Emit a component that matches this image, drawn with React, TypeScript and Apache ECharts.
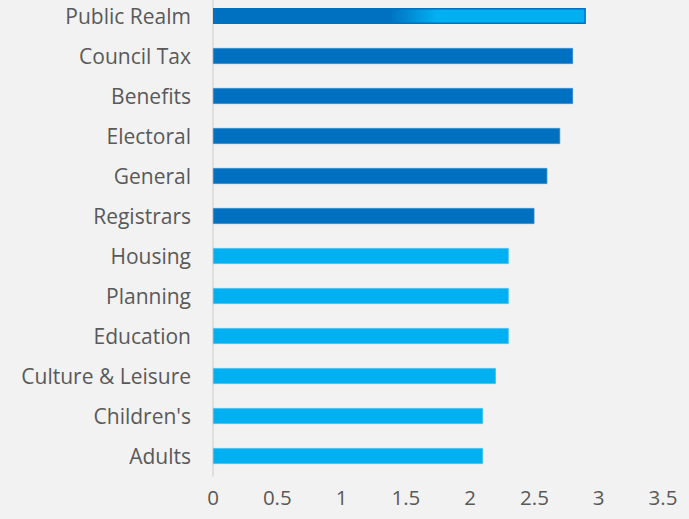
import React, { useEffect, useRef } from "react";
import * as echarts from "echarts";

const categories = [
  "Public Realm",
  "Council Tax",
  "Benefits",
  "Electoral",
  "General",
  "Registrars",
  "Housing",
  "Planning",
  "Education",
  "Culture & Leisure",
  "Children's",
  "Adults",
];
const values = [2.9, 2.8, 2.8, 2.7, 2.6, 2.5, 2.3, 2.3, 2.3, 2.2, 2.1, 2.1];
const groups = ["mixed", "dark", "dark", "dark", "dark", "dark", "light", "light", "light", "light", "light", "light"];

const DARK = "#0070c0";
const LIGHT = "#00b0f0";
const FONT = "'Open Sans'";

export default function App() {
  const ref = useRef<HTMLDivElement>(null);
  useEffect(() => {
    if (!ref.current) return;
    const chart = echarts.init(ref.current, null, { renderer: "svg" });
    const data = values.map((v, i) => {
      const g = groups[i];
      if (g === "mixed") {
        return {
          value: v,
          itemStyle: {
            color: new echarts.graphic.LinearGradient(0, 0, 1, 0, [
              { offset: 0, color: DARK },
              { offset: 0.47, color: DARK },
              { offset: 0.6, color: LIGHT },
              { offset: 1, color: LIGHT },
            ]),
            borderColor: DARK,
            borderWidth: 1.5,
          },
        };
      }
      return {
        value: v,
        itemStyle: {
          color: g === "dark" ? DARK : LIGHT,
          borderColor: g === "dark" ? "#2a86cc" : "#3cc0f2",
          borderWidth: 0.8,
        },
      };
    });
    chart.setOption({
      animation: false,
      backgroundColor: "#f2f2f2",
      textStyle: { fontFamily: FONT },
      grid: { left: 213, right: 26, top: 0, bottom: 43, containLabel: false },
      xAxis: {
        type: "value",
        min: 0,
        max: 3.5,
        interval: 0.5,
        axisLine: { show: false },
        axisTick: { show: false },
        splitLine: { show: false },
        axisLabel: { color: "#595959", fontSize: 20.5, margin: 10, fontFamily: FONT },
      },
      yAxis: {
        type: "category",
        inverse: true,
        data: categories,
        axisLine: { show: true, lineStyle: { color: "#d9d9d9", width: 1.5 } },
        axisTick: { show: false },
        axisLabel: { color: "#595959", fontSize: 21, margin: 22, fontFamily: FONT },
      },
      series: [
        {
          type: "bar",
          data,
          barWidth: 16,
        },
      ],
    });
    return () => chart.dispose();
  }, []);
  return (
    <div style={{ position: "fixed", left: 0, top: 0, width: 689, height: 519, overflow: "hidden", background: "#f2f2f2" }}>
      <div
        ref={ref}
        style={{ position: "absolute", left: 0, top: -4, width: 689, height: 523 }}
      />
    </div>
  );
}
